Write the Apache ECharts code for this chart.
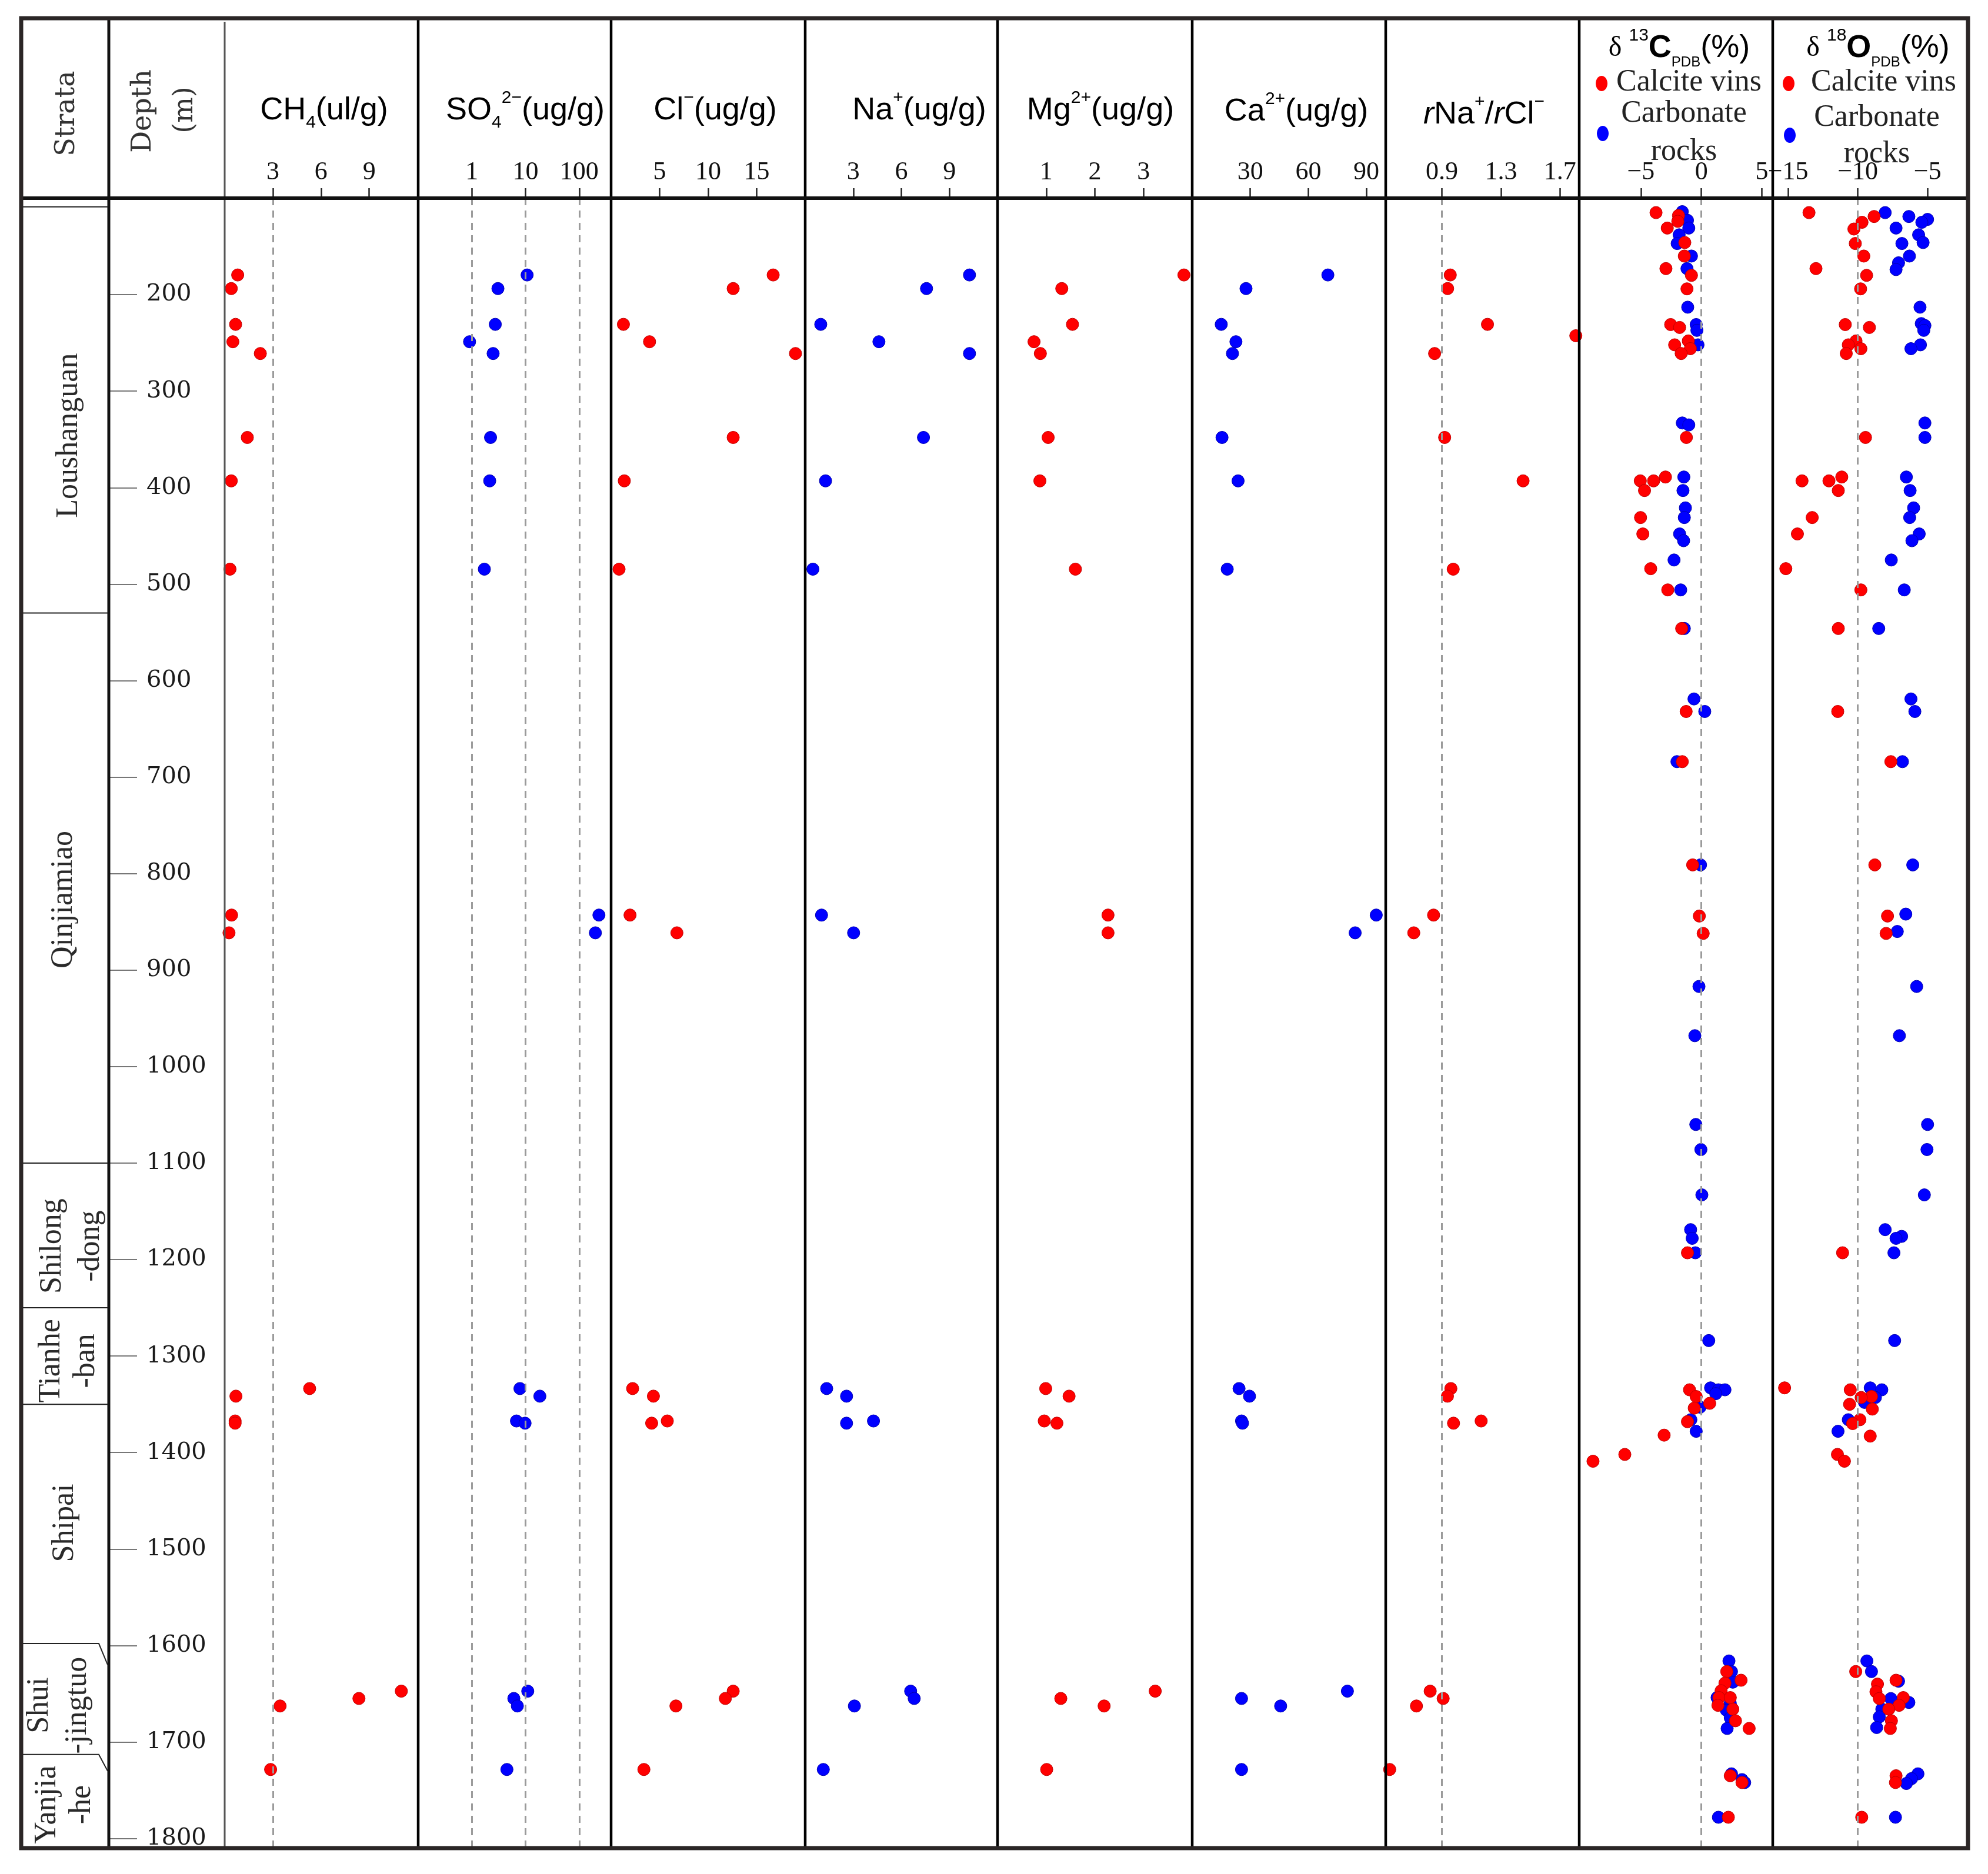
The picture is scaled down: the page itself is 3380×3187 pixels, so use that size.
<!DOCTYPE html>
<html>
<head>
<meta charset="utf-8">
<script src="https://cdn.jsdelivr.net/npm/echarts@6/dist/echarts.min.js"></script>
<style>
html, body { margin: 0; padding: 0; background: #fff; }
#main { width: 3380px; height: 3187px; }
</style>
</head>
<body>
<div id="main"></div>
<script>
// ---- data (depth in m) ----
var depthTicks = [200, 300, 400, 500, 600, 700, 800, 900, 1000, 1100, 1200, 1300, 1400, 1500, 1600, 1700, 1800];

// ion samples, one depth per sample
var ionDepth = [179.6, 193.7, 230.8, 248.8, 261, 348, 393, 484.5, 843, 861.4, 1333.7, 1341.6, 1367.3, 1369.6, 1647.3, 1654.9, 1662.7, 1728.5];
var ratioDepth = [179.6, 193.7, 230.8, 242.6, 261, 348, 393, 484.5, 843, 861.4, 1333.7, 1341.6, 1367.3, 1369.6, 1647.3, 1654.9, 1662.7, 1728.5];
var ch4 = [0.81, 0.41, 0.68, 0.51, 2.22, 1.41, 0.41, 0.33, 0.43, 0.27, 5.29, 0.70, 0.65, 0.65, 11.0, 8.36, 3.45, 2.86];
var so4 = [10.7, 3.06, 2.73, 0.906, 2.49, 2.23, 2.15, 1.71, 233, 200, 7.87, 18.5, 6.78, 9.8, 11.0, 6.06, 7.04, 4.5];
var cl = [16.7, 12.58, 1.27, 3.96, 19.0, 12.58, 1.36, 0.82, 1.95, 6.78, 2.22, 4.36, 5.79, 4.18, 12.58, 11.77, 6.68, 3.38];
var na = [10.25, 7.57, 0.97, 4.6, 10.25, 7.38, 1.27, 0.48, 1.02, 3.02, 1.34, 2.58, 4.26, 2.58, 6.58, 6.8, 3.07, 1.13];
var mg = [3.83, 1.32, 1.54, 0.75, 0.88, 1.04, 0.87, 1.6, 2.27, 2.27, 0.99, 1.47, 0.96, 1.22, 3.24, 1.30, 2.19, 1.01];
var ca = [70.1, 27.8, 15.0, 22.6, 20.8, 15.4, 23.7, 18.1, 95.1, 84.2, 24.2, 29.6, 25.5, 26.0, 80.2, 25.5, 45.7, 25.5];
var naCl = [0.957, 0.939, 1.209, 1.807, 0.851, 0.919, 1.45, 0.977, 0.844, 0.71, 0.961, 0.938, 1.166, 0.979, 0.821, 0.909, 0.728, 0.547];

// isotopes: [depth, value]
var c13Vein = [[115,-3.75],[118,-1.89],[124,-1.95],[131,-2.82],[146,-1.37],[160,-1.41],[173,-2.93],[180,-0.82],[194,-1.19],
  [231,-2.54],[234,-1.80],[248,-1.08],[252,-2.21],[256,-0.91],[261,-1.67],[348,-1.24],[389,-2.97],[393,-5.05],[393,-3.95],
  [403,-4.7],[431,-5.03],[448,-4.84],[484,-4.19],[506,-2.78],[546,-1.63],[632,-1.26],[684,-1.58],[791,-0.72],[844,-0.17],
  [862,0.15],[1193,-1.15],[1335,-0.98],[1342,-0.43],[1349,0.69],[1354,-0.59],[1368,-1.15],[1382,-3.08],[1402,-6.33],[1409,-8.96],
  [1627,2.1],[1636,3.28],[1639,1.95],[1647,1.63],[1654,1.45],[1654,2.39],[1662,1.37],[1666,2.6],[1678,2.82],[1686,3.95],
  [1735,2.39],[1742,3.36],[1778,2.23]];
var c13Rock = [[114,-1.58],[123,-1.15],[131,-1.04],[138,-1.84],[147,-2.0],[160,-0.82],[173,-1.19],[213,-1.13],[231,-0.43],
  [237,-0.37],[252,-0.28],[333,-1.58],[335,-1.04],[389,-1.45],[403,-1.52],[421,-1.32],[431,-1.41],[448,-1.80],[455,-1.47],
  [475,-2.26],[506,-1.71],[546,-1.41],[619,-0.61],[632,0.28],[684,-2.02],[791,-0.07],[917,-0.2],[968,-0.54],[1060,-0.46],
  [1086,-0.04],[1133,0.04],[1169,-0.89],[1178,-0.76],[1193,-0.5],[1284,0.61],[1333,0.76],[1335,1.41],[1335,1.95],[1339,1.19],
  [1353,-0.11],[1366,-0.87],[1378,-0.43],[1616,2.28],[1627,2.49],[1638,2.6],[1654,1.3],[1660,2.39],[1667,2.06],[1675,2.39],
  [1686,2.13],[1733,2.49],[1739,3.36],[1742,3.58],[1778,1.41]];
var o18Vein = [[115,-13.5],[119,-8.83],[125,-9.70],[132,-10.28],[147,-10.18],[160,-9.57],[173,-13.0],[180,-9.37],[194,-9.80],
  [231,-10.9],[234,-9.17],[248,-10.13],[252,-10.68],[256,-9.78],[261,-10.83],[348,-9.45],[389,-11.15],[393,-14.0],[393,-12.07],
  [403,-11.4],[431,-13.27],[448,-14.33],[484,-15.16],[506,-9.78],[546,-11.4],[632,-11.44],[684,-7.63],[791,-8.78],[844,-7.87],
  [862,-7.97],[1193,-11.09],[1333,-15.25],[1335,-10.54],[1342,-9.02],[1343,-9.76],[1350,-10.59],[1355,-8.96],[1366,-9.85],
  [1370,-10.37],[1383,-9.11],[1402,-11.46],[1409,-10.96],[1627,-10.15],[1636,-7.26],[1640,-8.59],[1648,-8.7],[1654,-6.74],
  [1655,-8.46],[1662,-7.04],[1666,-7.78],[1678,-7.59],[1686,-7.67],[1735,-7.26],[1742,-7.3],[1778,-9.72]];
var o18Rock = [[115,-8.04],[119,-6.34],[122,-5.0],[125,-5.41],[131,-7.26],[138,-5.64],[146,-5.32],[147,-6.84],[160,-6.30],
  [167,-7.08],[174,-7.26],[213,-5.54],[230,-5.45],[232,-5.19],[237,-5.27],[252,-5.51],[256,-6.19],[333,-5.19],[348,-5.19],
  [389,-6.52],[403,-6.25],[421,-6.0],[431,-6.28],[448,-5.6],[455,-6.12],[475,-7.6],[506,-6.67],[546,-8.5],[619,-6.19],
  [632,-5.91],[684,-6.8],[791,-6.06],[842,-6.56],[860,-7.17],[917,-5.78],[968,-7.02],[1060,-5.0],[1086,-5.04],[1133,-5.23],
  [1169,-8.04],[1176,-6.86],[1178,-7.26],[1193,-7.41],[1284,-7.36],[1333,-9.11],[1335,-8.28],[1343,-8.74],[1348,-9.52],
  [1366,-10.68],[1378,-11.42],[1616,-9.35],[1627,-9.02],[1637,-7.08],[1655,-7.63],[1659,-6.34],[1666,-8.28],[1674,-8.46],
  [1685,-8.65],[1733,-5.69],[1738,-6.15],[1743,-6.52],[1778,-7.3]];

// strata
var strataTops = [109, 530, 1100, 1250, 1350, 1598, 1713];
var strataSlantEnd = [null, null, null, null, null, 1620, 1730];
var strataNames = ['Loushanguan', 'Qinjiamiao', 'Shilong\n-dong', 'Tianhe\n-ban', 'Shipai', 'Shui\n-jingtuo', 'Yanjia\n-he'];
var strataLabelDepth = [346, 827, 1186, 1305, 1473, 1662, 1765];

// ---- layout ----
var depthMin = 100, depthMax = 1810;
var top0 = 337, bottomGap = 3187 - 3143;
var colX = [382, 711, 1039, 1369, 1696, 2027, 2356, 2685, 3014, 3346];
var RED = '#ff0000', BLUE = '#0000ff';

function pairs(depths, vals) {
    return vals.map(function (v, i) { return [v, depths[i]]; });
}
function flip(list) {
    return list.map(function (p) { return [p[1], p[0]]; });
}

var columns = [
    { type: 'value', min: 0, max: 12.05, ticks: [3, 6, 9], dash: [3], sets: [[pairs(ionDepth, ch4), RED]] },
    { type: 'log', min: 0.1, max: 393, ticks: [1, 10, 100], dash: [1, 10, 100], sets: [[pairs(ionDepth, so4), BLUE]] },
    { type: 'value', min: 0, max: 20, ticks: [5, 10, 15], dash: [], sets: [[pairs(ionDepth, cl), RED]] },
    { type: 'value', min: 0, max: 12, ticks: [3, 6, 9], dash: [], sets: [[pairs(ionDepth, na), BLUE]] },
    { type: 'value', min: 0, max: 4, ticks: [1, 2, 3], dash: [], sets: [[pairs(ionDepth, mg), RED]] },
    { type: 'value', min: 0, max: 100, ticks: [30, 60, 90], dash: [], sets: [[pairs(ionDepth, ca), BLUE]] },
    { type: 'value', min: 0.52, max: 1.83, ticks: [0.9, 1.3, 1.7], dash: [0.9], sets: [[pairs(ratioDepth, naCl), RED]] },
    { type: 'value', min: -10.1, max: 5.9, ticks: [-5, 0, 5], dash: [0], sets: [[flip(c13Rock), BLUE], [flip(c13Vein), RED]] },
    { type: 'value', min: -16.1, max: -2.1, ticks: [-15, -10, -5], dash: [-10], sets: [[flip(o18Rock), BLUE], [flip(o18Vein), RED]] }
];

var grids = [{ left: 185, top: top0, width: 197, bottom: bottomGap }];
var xAxes = [{ gridIndex: 0, type: 'value', show: false, min: 0, max: 1 }];
var yAxes = [{
    gridIndex: 0, type: 'value', inverse: true, min: depthMin, max: depthMax, position: 'left',
    axisLine: { show: false }, splitLine: { show: false },
    axisTick: { show: true, inside: true, length: 48, customValues: depthTicks, lineStyle: { color: '#777', width: 2 } },
    axisLabel: {
        inside: true, margin: 64, customValues: depthTicks, fontFamily: 'DejaVu Serif', fontSize: 40, color: '#1a1a1a',
        formatter: function (v) { return String(v); }
    }
}];
var series = [];

columns.forEach(function (c, i) {
    var gi = i + 1;
    grids.push({ left: colX[i], top: top0, width: colX[i + 1] - colX[i], bottom: bottomGap });
    xAxes.push({
        gridIndex: gi, type: c.type, position: 'top', min: c.min, max: c.max, logBase: 10,
        axisLine: { show: false }, splitLine: { show: false },
        axisTick: { show: true, length: 17, customValues: c.ticks, lineStyle: { color: '#222', width: 2.5 } },
        axisLabel: {
            margin: 22, customValues: c.ticks, fontFamily: 'Liberation Serif', fontSize: 44, color: '#111',
            formatter: function (v) { return String(v).replace('-', '\u2212'); }
        }
    });
    yAxes.push({ gridIndex: gi, type: 'value', inverse: true, min: depthMin, max: depthMax, show: false });
    c.sets.forEach(function (s, k) {
        var ser = {
            type: 'scatter', xAxisIndex: gi, yAxisIndex: gi, data: s[0], symbolSize: 21,
            itemStyle: { color: s[1], borderColor: s[1] === RED ? '#c00000' : '#0000b0', borderWidth: 1, opacity: 1 },
            z: 3 + k
        };
        if (k === 0 && c.dash.length) {
            ser.markLine = {
                silent: true, symbol: ['none', 'none'], label: { show: false },
                lineStyle: { type: [12, 9], color: '#9b9b9b', width: 3 },
                data: c.dash.map(function (v) { return { xAxis: v }; })
            };
        }
        series.push(ser);
    });
});

var chart = echarts.init(document.getElementById('main'), null, { renderer: 'canvas' });
chart.setOption({
    animation: false,
    backgroundColor: '#fff',
    grid: grids,
    xAxis: xAxes,
    yAxis: yAxes,
    series: series
});

// ---- frame, header and strata drawn around the axes ----
function yOf(d) { return chart.convertToPixel({ yAxisIndex: 0 }, d); }

var sans = 'Liberation Sans', serif = 'Liberation Serif';
var rich = {
    n: { fontFamily: sans, fontSize: 54, lineHeight: 72, color: '#000' },
    it: { fontFamily: sans, fontSize: 54, lineHeight: 72, fontStyle: 'italic', color: '#000' },
    b: { fontFamily: sans, fontSize: 54, lineHeight: 72, fontWeight: 'bold', color: '#000' },
    d: { fontFamily: serif, fontSize: 48, lineHeight: 72, color: '#000' },
    sb: { fontFamily: sans, fontSize: 30, lineHeight: 34, verticalAlign: 'bottom', color: '#000' },
    sp: { fontFamily: sans, fontSize: 30, lineHeight: 34, verticalAlign: 'top', color: '#000' },
    pdb: { fontFamily: sans, fontSize: 24, lineHeight: 28, verticalAlign: 'bottom', color: '#000' }
};
var titles = [
    ['{n|CH}{sb|4}{n|(ul/g)}', 551, 188],
    ['{n|SO}{sb|4}{sp|2\u2212}{n|(ug/g)}', 893, 188],
    ['{n|Cl}{sp|\u2212}{n|(ug/g)}', 1216, 188],
    ['{n|Na}{sp|+}{n|(ug/g)}', 1563, 188],
    ['{n|Mg}{sp|2+}{n|(ug/g)}', 1871, 188],
    ['{n|Ca}{sp|2+}{n|(ug/g)}', 2204, 190],
    ['{it|r}{n|Na}{sp|+}{n|/}{it|r}{n|Cl}{sp|\u2212}', 2523, 195],
    ['{d|\u03b4 }{sp|13}{b|C}{pdb|PDB}{n|(%)}', 2855, 82],
    ['{d|\u03b4 }{sp|18}{b|O}{pdb|PDB}{n|(%)}', 3193, 82]
];

var g = [];
function line(x1, y1, x2, y2, w, c) {
    g.push({ type: 'line', z: 100, shape: { x1: x1, y1: y1, x2: x2, y2: y2 }, style: { stroke: c || '#000', lineWidth: w } });
}
function text(t, x, y, st, rot) {
    var s = Object.assign({ text: t, align: 'center', verticalAlign: 'middle', fill: '#000' }, st);
    g.push({ type: 'text', z: 101, x: x, y: y, rotation: rot || 0, style: s });
}

// column dividers
line(185, 31, 185, 3143, 5, '#111');
line(382, 37, 382, 3143, 3, '#555');
for (var i = 1; i < colX.length - 1; i++) line(colX[i], 31, colX[i], 3143, 4.5, '#000');
// header bottom and outer frame
line(36, top0, 3346, top0, 6, '#111');
g.push({ type: 'rect', z: 102, shape: { x: 36, y: 31, width: 3310, height: 3112 }, style: { fill: 'none', stroke: '#2b2626', lineWidth: 7 } });

// strata boundaries
strataTops.forEach(function (d, i) {
    var y = yOf(d);
    if (strataSlantEnd[i] == null) {
        line(39, y, 183, y, 2, '#222');
    } else {
        g.push({ type: 'polyline', z: 100, shape: { points: [[39, y], [168, y], [183, yOf(strataSlantEnd[i])]] }, style: { stroke: '#222', lineWidth: 2, fill: 'none' } });
    }
});
var strataX = [117, 108, 122, 117, 110, 100, 110];
var strataLH = [60, 60, 65, 59, 60, 65, 59];
strataNames.forEach(function (nm, i) {
    text(nm, strataX[i], yOf(strataLabelDepth[i]), { fontFamily: serif, fontSize: 52, lineHeight: strataLH[i], fill: '#2a2a2a' }, Math.PI / 2);
});

// header
text('Strata', 114, 193, { fontFamily: 'DejaVu Serif', fontSize: 46, fill: '#333' }, Math.PI / 2);
text('Depth', 244, 189, { fontFamily: 'DejaVu Serif', fontSize: 46, fill: '#333' }, Math.PI / 2);
text('(m)', 315, 187, { fontFamily: 'DejaVu Serif', fontSize: 46, fill: '#333' }, Math.PI / 2);
titles.forEach(function (t) { text(t[0], t[1], t[2], { rich: rich }); });

// isotope legends
var legend = [[2723, 2748, 2863, 142, 227, 193, 258], [3041, 3079, 3191, 142, 230, 200, 262]];
legend.forEach(function (L) {
    g.push({ type: 'ellipse', z: 101, shape: { cx: L[0], cy: L[3], rx: 10, ry: 13 }, style: { fill: RED } });
    g.push({ type: 'ellipse', z: 101, shape: { cx: L[0] + 2, cy: L[4], rx: 10, ry: 13 }, style: { fill: BLUE } });
    text('Calcite vins', L[1], L[3] - 2, { fontFamily: serif, fontSize: 52, align: 'left', fill: '#222' });
    text('Carbonate', L[2], L[5], { fontFamily: serif, fontSize: 52, fill: '#222' });
    text('rocks', L[2], L[6], { fontFamily: serif, fontSize: 52, fill: '#222' });
});

chart.setOption({ graphic: g });
</script>
</body>
</html>
